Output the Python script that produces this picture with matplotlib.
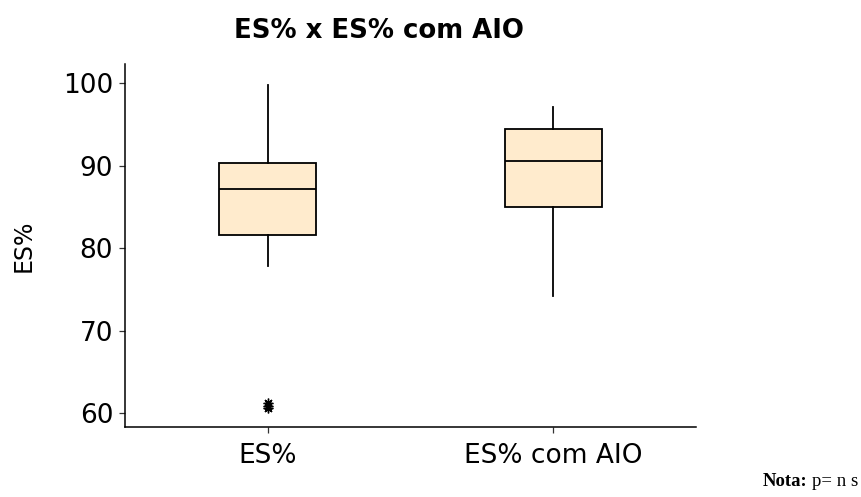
import matplotlib
matplotlib.use("Agg")
import matplotlib.pyplot as plt

# Summary statistics for each group
groups = ["ES%", "ES% com AIO"]
q1 = [81.6, 85.0]
medians = [87.2, 90.5]
q3 = [90.3, 94.45]
whisker_low = [77.85, 74.2]
whisker_high = [99.8, 97.1]
outliers = [[61.3, 60.9, 60.6], []]

y_ticks = [60, 70, 80, 90, 100]

fig = plt.figure(figsize=(8.61, 4.97), dpi=100)
ax = fig.add_axes([125 / 861, 1 - 427.3 / 497, (696 - 125) / 861, (427.3 - 64) / 497])

stats = []
for i, name in enumerate(groups):
    stats.append(dict(label=name, med=medians[i], q1=q1[i], q3=q3[i],
                      whislo=whisker_low[i], whishi=whisker_high[i],
                      fliers=outliers[i]))

ax.bxp(stats, positions=[1, 2], widths=0.34, patch_artist=True,
       showcaps=False,
       boxprops=dict(facecolor="#FFEBCD", edgecolor="black", linewidth=1.3),
       medianprops=dict(color="black", linewidth=1.3),
       whiskerprops=dict(color="black", linewidth=1.3),
       flierprops=dict(marker=(8, 2, 0), markersize=7, markeredgecolor="black",
                       markerfacecolor="black", markeredgewidth=1.0, linestyle="none"))

ax.set_xlim(0.5, 2.5)
ax.set_ylim(58.3, 102.3)
ax.set_yticks(y_ticks)
ax.set_xticks([1, 2])
ax.set_xticklabels(groups)

for s in ["top", "right"]:
    ax.spines[s].set_visible(False)
for s in ["left", "bottom"]:
    ax.spines[s].set_linewidth(1.1)
    ax.spines[s].set_color("black")

ax.tick_params(axis="both", length=4, width=0.9, color="#333333",
               labelsize=19, labelcolor="black")
ax.tick_params(axis="x", pad=7)
ax.tick_params(axis="y", pad=4.5)
for lbl in ax.get_xticklabels() + ax.get_yticklabels():
    lbl.set_family("DejaVu Sans")

ax.set_ylabel("ES%", family="DejaVu Sans", fontsize=17, labelpad=20)

fig.text(379 / 861, 1 - 31 / 497, "ES% x ES% com AIO", ha="center", va="center",
         family="DejaVu Sans", fontweight="bold", fontsize=18.7)

fig.text(763 / 861, 1 - 482 / 497, "Nota:", ha="left", va="center",
         family="Liberation Serif", fontweight="bold", fontsize=13.5)
fig.text(812 / 861, 1 - 482 / 497, "p= n s", ha="left", va="center",
         family="Liberation Serif", fontsize=13.5)

fig.savefig("out.png", dpi=100)
